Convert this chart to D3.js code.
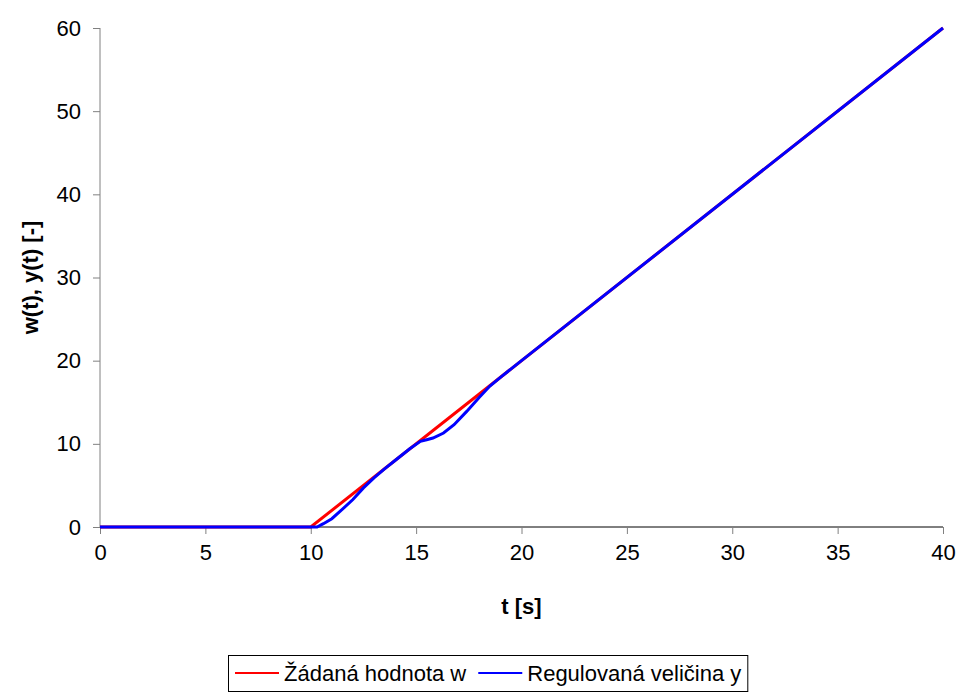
<!DOCTYPE html>
<html>
<head>
<meta charset="utf-8">
<script src="https://cdn.jsdelivr.net/npm/d3@7"></script>
<style>
  body { margin: 0; background: #fff; }
  text { font-family: "Liberation Sans", Arial, sans-serif; }
</style>
</head>
<body>
<svg id="chart" width="967" height="695"></svg>
<script>
// values
var xTicks = [0, 5, 10, 15, 20, 25, 30, 35, 40];
var yTicks = [0, 10, 20, 30, 40, 50, 60];

// setpoint w(t): ramp starting at t = 10
var wTime  = [0, 10, 40];
var wValue = [0, 0, 60];

// controlled output y(t)
var yTime  = [0, 10.3, 10.6, 11, 11.4, 12, 12.5, 13, 13.5, 14, 14.7, 15.2, 15.5, 15.8, 16.3, 16.8, 17.4, 18, 18.5, 19, 20, 40];
var yValue = [0, 0, 0.4, 1.0, 1.9, 3.3, 4.7, 5.9, 7.0, 8.0, 9.4, 10.3, 10.5, 10.7, 11.3, 12.3, 13.9, 15.6, 16.95, 18.0, 20, 60];

var seriesNames = ['Žádaná hodnota w', 'Regulovaná veličina y'];
var seriesColors = ['#ff0000', '#0000ff'];

var svg = d3.select('#chart');
var padding = { t: 28, r: 24, b: 168, l: 100 };
var width = 967 - padding.l - padding.r;
var height = 695 - padding.t - padding.b;
var fontSize = '22px';

var x = d3.scaleLinear().domain([0, 40]).range([0, width]);
var y = d3.scaleLinear().domain([0, 60]).range([height, 0]);

var g = svg.append('g')
  .attr('transform', `translate(${padding.l}, ${padding.t})`);

// axes
var xAxis = g.append('g')
  .attr('transform', `translate(0, ${height})`)
  .call(d3.axisBottom(x).tickValues(xTicks).tickSize(7).tickPadding(10));
xAxis.select('.domain').attr('stroke', '#000').attr('d', `M0,0H${width}`);
xAxis.selectAll('.tick line').attr('stroke', '#808080');
xAxis.selectAll('text').attr('font-size', fontSize).attr('fill', '#000');

var yAxis = g.append('g')
  .call(d3.axisLeft(y).tickValues(yTicks).tickSize(7).tickPadding(12));
yAxis.select('.domain').attr('stroke', '#808080').attr('d', `M0,${height}V0`);
yAxis.selectAll('.tick line').attr('stroke', '#808080');
yAxis.selectAll('text').attr('font-size', fontSize).attr('fill', '#000');

// lines
var line = d3.line().x(d => x(d[0])).y(d => y(d[1]));
var wData = d3.zip(wTime, wValue);
var yData = d3.zip(yTime, yValue);

g.append('path').datum(wData)
  .attr('d', line).attr('fill', 'none')
  .attr('stroke', seriesColors[0]).attr('stroke-width', 3);
g.append('path').datum(yData)
  .attr('d', line).attr('fill', 'none')
  .attr('stroke', seriesColors[1]).attr('stroke-width', 3);

// axis titles
g.append('text').text('t [s]')
  .attr('x', width / 2).attr('y', height + 87)
  .attr('text-anchor', 'middle')
  .attr('font-size', fontSize).attr('font-weight', 'bold');

svg.append('text').text('w(t), y(t) [-]')
  .attr('transform', `translate(38, ${padding.t + height / 2}) rotate(-90)`)
  .attr('text-anchor', 'middle')
  .attr('font-size', fontSize).attr('font-weight', 'bold');

// legend
var legend = svg.append('g');
var legX = 228, legY = 655, legH = 36;
var cursor = legX + 7;
seriesNames.forEach(function(name, i) {
  legend.append('line')
    .attr('x1', cursor).attr('x2', cursor + 44)
    .attr('y1', legY + legH / 2).attr('y2', legY + legH / 2)
    .attr('stroke', seriesColors[i]).attr('stroke-width', 2);
  var t = legend.append('text').text(name)
    .attr('x', cursor + 49).attr('y', legY + legH / 2 + 8)
    .attr('font-size', fontSize);
  cursor += 49 + t.node().getComputedTextLength() + 12;
});
legend.insert('rect', ':first-child')
  .attr('x', legX + 0.5).attr('y', legY + 0.5)
  .attr('width', cursor - legX - 6).attr('height', legH)
  .attr('fill', '#fff').attr('stroke', '#000');
</script>
</body>
</html>
